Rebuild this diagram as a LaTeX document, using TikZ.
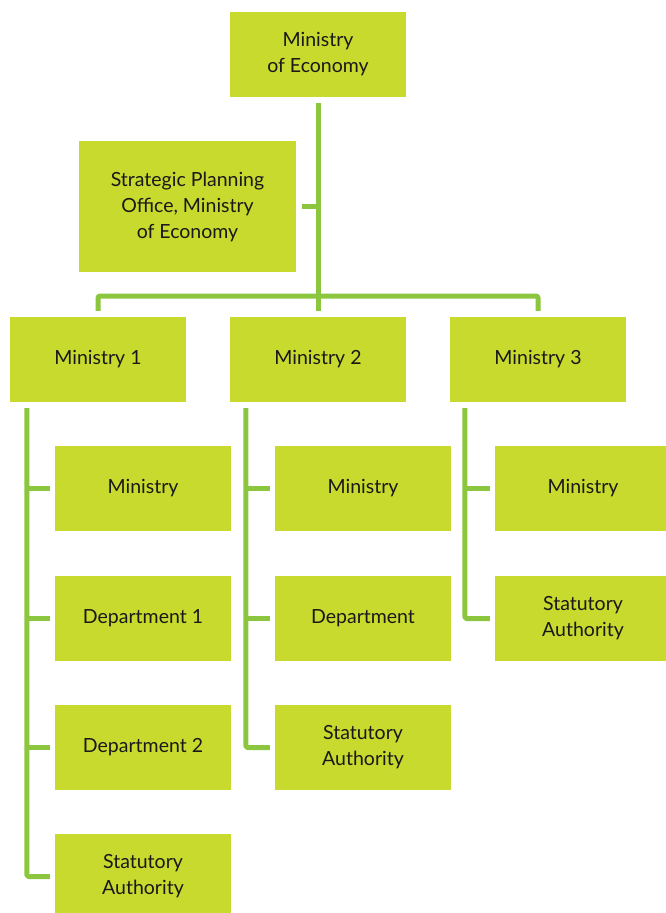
\documentclass[tikz,border=0pt]{standalone}
\usepackage{fontspec}
\setmainfont{Lato}
\usepackage{tikz}
\usetikzlibrary{positioning}

\definecolor{boxgreen}{HTML}{C8DA2E}
\definecolor{linegreen}{HTML}{8CC63F}

\tikzset{
  unit/.style={fill=boxgreen, minimum width=176pt, minimum height=85pt, inner sep=0pt,
    align=center, font=\fontsize{19.5}{26}\selectfont, text=black!90},
  link/.style={draw=linegreen, line width=5pt, line join=round, rounded corners=1.5pt}
}

\begin{document}
\begin{tikzpicture}[x=1pt,y=-1pt]
 \useasboundingbox (0,0) rectangle (666,913);
  \draw (318,54.5) node[unit] (eco) {Ministry\\of Economy};
  \draw (187.5,206.5) node[unit, minimum width=217pt, minimum height=131pt] (spo) {Strategic Planning\\Office, Ministry\\of Economy};
  % ministries
  \draw (98,359.5) node[unit] (m1) {Ministry 1};
  \draw (318,359.5) node[unit] (m2) {Ministry 2};
  \draw (538,359.5) node[unit] (m3) {Ministry 3};
  % under ministry 1
  \draw (143,488.5) node[unit] (m1a) {Ministry};
  \draw (143,618.5) node[unit] (m1b) {Department 1};
  \draw (143,747.5) node[unit] (m1c) {Department 2};
  \draw (143,876.5) node[unit] (m1d) {Statutory\\Authority};
  % under ministry 2
  \draw (363,488.5) node[unit] (m2a) {Ministry};
  \draw (363,618.5) node[unit] (m2b) {Department};
  \draw (363,747.5) node[unit] (m2c) {Statutory\\Authority};
  % under ministry 3
  \draw (583,488.5) node[unit] (m3a) {Ministry};
  \draw (583,618.5) node[unit] (m3b) {Statutory\\Authority};

  \coordinate (bar) at (318,296);
  \coordinate (v1) at ([xshift=17pt,yshift=-6pt]m1.south west);
  \coordinate (v2) at ([xshift=16pt,yshift=-6pt]m2.south west);
  \coordinate (v3) at ([xshift=15pt,yshift=-6pt]m3.south west);

  \path[link] ([yshift=-6pt]eco.south) -- (bar);
  \path[link] ([xshift=6pt]spo.east) -- (spo.east -| eco.south);
  \path[link] ([yshift=6pt]m1.north) |- (bar) -| ([yshift=6pt]m3.north);
  \path[link] (bar) -- ([yshift=6pt]m2.north);

  \path[link] (v1) |- ([xshift=-5pt]m1d.west);
  \path[link] (m1a.west -| v1) -- ([xshift=-5pt]m1a.west);
  \path[link] (m1b.west -| v1) -- ([xshift=-5pt]m1b.west);
  \path[link] (m1c.west -| v1) -- ([xshift=-5pt]m1c.west);

  \path[link] (v2) |- ([xshift=-5pt]m2c.west);
  \path[link] (m2a.west -| v2) -- ([xshift=-5pt]m2a.west);
  \path[link] (m2b.west -| v2) -- ([xshift=-5pt]m2b.west);

  \path[link] (v3) |- ([xshift=-5pt]m3b.west);
  \path[link] (m3a.west -| v3) -- ([xshift=-5pt]m3a.west);

\end{tikzpicture}
\end{document}
